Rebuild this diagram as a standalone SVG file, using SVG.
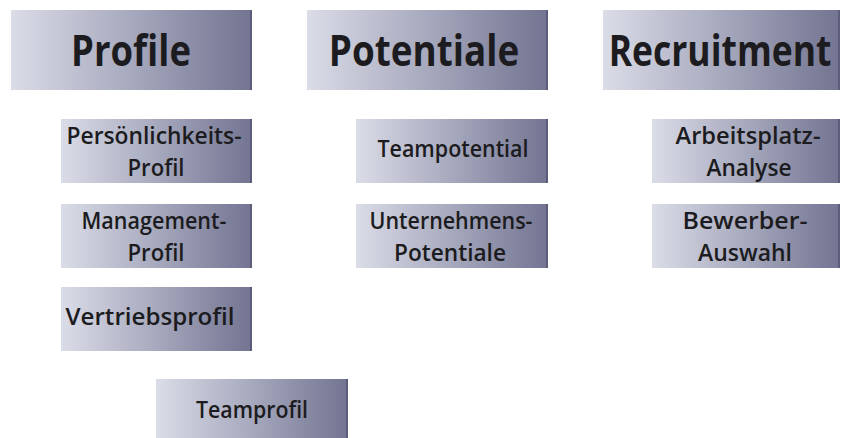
<svg xmlns="http://www.w3.org/2000/svg" width="843" height="438" viewBox="0 0 843 438">
<defs>
<linearGradient id="g" x1="0" y1="0" x2="1" y2="0">
<stop offset="0" stop-color="#dadce7"/>
<stop offset="0.5" stop-color="#a7a9be"/>
<stop offset="1" stop-color="#737592"/>
</linearGradient>
</defs>
<style>
.box{fill:url(#g)}
.edge{fill:#5b5d7b}
.t{font-family:"Open Sans","DejaVu Sans",sans-serif;font-weight:600;fill:#1c1c20;text-anchor:middle}
.h{font-size:43px;font-weight:700}
.s{font-size:24px}
</style>
<rect width="843" height="438" fill="#ffffff"/>
<g id="connectors"></g>
<g id="profile">
<rect class="box" x="11" y="10" width="239" height="80"/><rect class="edge" x="250" y="10" width="2" height="80"/>
<text class="t h" transform="translate(131,66) scale(0.85,1)" x="0" y="0" textLength="141" lengthAdjust="spacingAndGlyphs">Profile</text>
</g>
<g id="potentiale">
<rect class="box" x="307" y="10" width="239" height="80"/><rect class="edge" x="546" y="10" width="2" height="80"/>
<text class="t h" transform="translate(424,66) scale(0.85,1)" x="0" y="0" textLength="224" lengthAdjust="spacingAndGlyphs">Potentiale</text>
</g>
<g id="recruitment">
<rect class="box" x="603" y="10" width="235" height="80"/><rect class="edge" x="838" y="10" width="2" height="80"/>
<text class="t h" transform="translate(720,66) scale(0.85,1)" x="0" y="0" textLength="262" lengthAdjust="spacingAndGlyphs">Recruitment</text>
</g>
<g id="persoenlichkeitsprofil">
<rect class="box" x="61" y="119" width="189" height="64"/><rect class="edge" x="250" y="119" width="2" height="64"/>
<text class="t s" x="154" y="144" textLength="175" lengthAdjust="spacingAndGlyphs">Persönlichkeits-</text>
<text class="t s" x="156" y="176" textLength="57" lengthAdjust="spacingAndGlyphs">Profil</text>
</g>
<g id="managementprofil">
<rect class="box" x="61" y="204" width="189" height="64"/><rect class="edge" x="250" y="204" width="2" height="64"/>
<text class="t s" x="154" y="229" textLength="145" lengthAdjust="spacingAndGlyphs">Management-</text>
<text class="t s" x="156" y="261" textLength="57" lengthAdjust="spacingAndGlyphs">Profil</text>
</g>
<g id="vertriebsprofil">
<rect class="box" x="61" y="287" width="189" height="64"/><rect class="edge" x="250" y="287" width="2" height="64"/>
<text class="t s" x="150" y="325" textLength="169" lengthAdjust="spacingAndGlyphs">Vertriebsprofil</text>
</g>
<g id="teamprofil">
<rect class="box" x="156" y="379" width="190" height="59"/><rect class="edge" x="346" y="379" width="2" height="59"/>
<text class="t s" x="252" y="418" textLength="112" lengthAdjust="spacingAndGlyphs">Teamprofil</text>
</g>
<g id="teampotential">
<rect class="box" x="356" y="119" width="190" height="64"/><rect class="edge" x="546" y="119" width="2" height="64"/>
<text class="t s" x="453" y="157" textLength="151" lengthAdjust="spacingAndGlyphs">Teampotential</text>
</g>
<g id="unternehmenspotentiale">
<rect class="box" x="356" y="204" width="190" height="64"/><rect class="edge" x="546" y="204" width="2" height="64"/>
<text class="t s" x="451" y="229" textLength="163" lengthAdjust="spacingAndGlyphs">Unternehmens-</text>
<text class="t s" x="450" y="261" textLength="112" lengthAdjust="spacingAndGlyphs">Potentiale</text>
</g>
<g id="arbeitsplatzanalyse">
<rect class="box" x="652" y="119" width="186" height="64"/><rect class="edge" x="838" y="119" width="2" height="64"/>
<text class="t s" x="748" y="144" textLength="145" lengthAdjust="spacingAndGlyphs">Arbeitsplatz-</text>
<text class="t s" x="749" y="176" textLength="85" lengthAdjust="spacingAndGlyphs">Analyse</text>
</g>
<g id="bewerberauswahl">
<rect class="box" x="652" y="204" width="186" height="64"/><rect class="edge" x="838" y="204" width="2" height="64"/>
<text class="t s" x="745" y="229" textLength="125" lengthAdjust="spacingAndGlyphs">Bewerber-</text>
<text class="t s" x="745" y="261" textLength="94" lengthAdjust="spacingAndGlyphs">Auswahl</text>
</g>
</svg>
